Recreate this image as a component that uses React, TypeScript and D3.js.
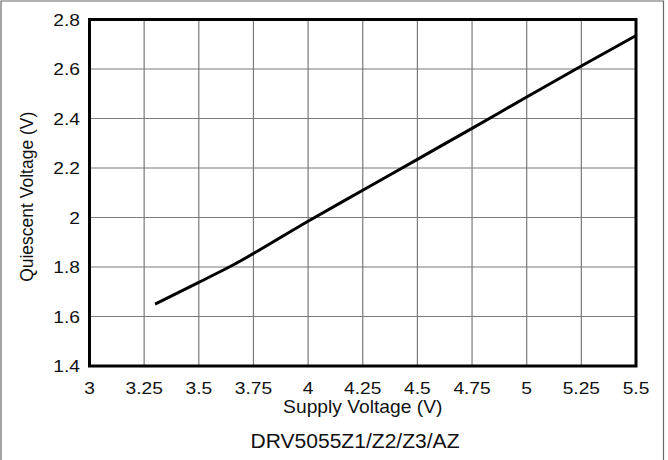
import React from 'react';
import * as d3 from 'd3';

const supplyV = [3.3, 3.5, 3.65, 4, 4.25, 4.5, 4.75, 5, 5.25, 5.5];
const quiescentV = [1.65, 1.738, 1.805, 1.985, 2.11, 2.235, 2.36, 2.487, 2.612, 2.735];
const xTicks = [3, 3.25, 3.5, 3.75, 4, 4.25, 4.5, 4.75, 5, 5.25, 5.5];
const yTicks = [1.4, 1.6, 1.8, 2, 2.2, 2.4, 2.6, 2.8];

const W = 668;
const H = 460;
const left = 89.5;
const right = 636;
const top = 19.5;
const bottom = 366;
const font = 'Arial, "Liberation Sans", Helvetica, sans-serif';

export default function App() {
    const x = d3.scaleLinear().domain([3, 5.5]).range([left, right]);
    const y = d3.scaleLinear().domain([1.4, 2.8]).range([bottom, top]);
    const line = d3.line<number>()
        .x((d, i) => x(supplyV[i]))
        .y(d => y(d))
        .curve(d3.curveMonotoneX);

    return (
        <svg width={W} height={H} style={{position: 'absolute', left: 0, top: 0}}>
            <rect x={0} y={0} width={W} height={H} fill="#fff"/>
            <path d={`M1,${H} L1,1 L663.5,1 L663.5,${H}`} fill="none" stroke="#666" strokeWidth={1.2}/>
            {xTicks.map((t, i) => (
                <line key={'gx' + i} x1={x(t)} x2={x(t)} y1={top} y2={bottom} stroke="#7a7a7a" strokeWidth={1.2}/>
            ))}
            {yTicks.map((t, i) => (
                <line key={'gy' + i} x1={left} x2={right} y1={y(t)} y2={y(t)} stroke="#7a7a7a" strokeWidth={1.2}/>
            ))}
            <rect x={left} y={top} width={right - left} height={bottom - top} fill="none" stroke="#000" strokeWidth={3}/>
            <path d={line(quiescentV) || ''} fill="none" stroke="#000" strokeWidth={3} strokeLinejoin="round"/>
            {yTicks.map((t, i) => (
                <g key={'ty' + i} transform={`translate(80,${y(t) + 6}) scale(1.2,1)`}>
                    <text textAnchor="end" fontFamily={font} fontSize={16} fill="#111">{String(t)}</text>
                </g>
            ))}
            {xTicks.map((t, i) => (
                <g key={'tx' + i} transform={`translate(${x(t)},394) scale(1.2,1)`}>
                    <text textAnchor="middle" fontFamily={font} fontSize={16} fill="#111">{String(t)}</text>
                </g>
            ))}
            <g transform={`translate(${(left + right) / 2},413) scale(1.1,1)`}>
                <text textAnchor="middle" fontFamily={font} fontSize={17.5} fill="#111">Supply Voltage (V)</text>
            </g>
            <g transform={`translate(33,${(top + bottom) / 2 + 4}) rotate(-90)`}>
                <text textAnchor="middle" fontFamily={font} fontSize={17.5} fill="#111">Quiescent Voltage (V)</text>
            </g>
            <g transform={`translate(355,448) scale(1.08,1)`}>
                <text textAnchor="middle" fontFamily={font} fontSize={19.5} fill="#111">DRV5055Z1/Z2/Z3/AZ</text>
            </g>
        </svg>
    );
}
